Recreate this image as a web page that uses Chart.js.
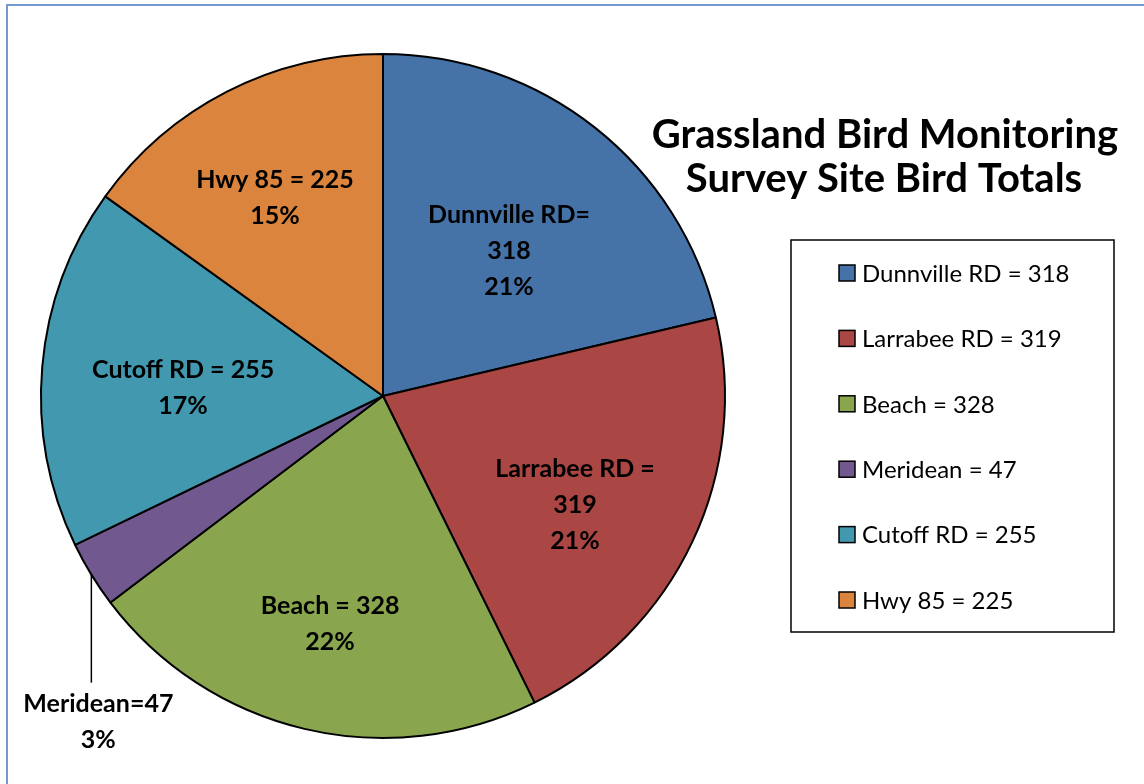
<!DOCTYPE html>
<html>
<head>
<meta charset="utf-8">
<script src="https://cdn.jsdelivr.net/npm/chart.js@4.4.1/dist/chart.umd.min.js"></script>
<style>
  html,body{ margin:0; padding:0; background:#fff; }
  #wrap{ width:1144px; height:784px; position:relative; }
</style>
</head>
<body>
<div id="wrap"><canvas id="c" width="1144" height="784"></canvas></div>
<script>
// survey totals
const sites = ['Dunnville RD', 'Larrabee RD', 'Beach', 'Meridean', 'Cutoff RD', 'Hwy 85'];
const birdTotals = [318, 319, 328, 47, 255, 225];
const percentLabels = ['21%', '21%', '22%', '3%', '17%', '15%'];
const sliceText = [
  ['Dunnville RD=', '318'],
  ['Larrabee RD =', '319'],
  ['Beach = 328'],
  ['Meridean=47'],
  ['Cutoff RD = 255'],
  ['Hwy 85 = 225']
];
const titleLines = ['Grassland Bird Monitoring', 'Survey Site Bird Totals'];

const colors = ['#4572a7', '#aa4643', '#89a54e', '#71588f', '#4198af', '#db843d'];
// label placement: share of the radius (0 = outside with leader) and a small angle nudge in degrees
const labelRadius = [0.562, 0.646, 0.684, 0, 0.585, 0.659];
const labelNudge = [2.6, 4.4, -0.2, 0, -2.6, -1.5];
const FONT = 'Lato, "Open Sans", sans-serif';

const decor = {
  id: 'decor',
  beforeDraw(chart){
    const ctx = chart.ctx;
    ctx.save();
    ctx.strokeStyle = '#7399d0';
    ctx.lineWidth = 2;
    ctx.beginPath();
    ctx.moveTo(7, 790); ctx.lineTo(7, 5); ctx.lineTo(1150, 5);
    ctx.stroke();
    ctx.restore();
  },
  afterDatasetsDraw(chart){
    const ctx = chart.ctx;
    const meta = chart.getDatasetMeta(0);
    ctx.save();
    ctx.fillStyle = '#000';
    ctx.textAlign = 'center';
    ctx.textBaseline = 'middle';
    ctx.font = 'bold 25px ' + FONT;
    meta.data.forEach((arc, i) => {
      const p = arc.getProps(['x','y','startAngle','endAngle','outerRadius'], true);
      const mid = (p.startAngle + p.endAngle) / 2;
      const lines = sliceText[i].concat([percentLabels[i]]);
      if(labelRadius[i] > 0){
        const a = mid + labelNudge[i] * Math.PI / 180;
        const r = p.outerRadius * labelRadius[i];
        const cx = p.x + Math.cos(a) * r;
        const cy = p.y + Math.sin(a) * r;
        const top = cy - (lines.length - 1) * 36 / 2;
        lines.forEach((t, k) => ctx.fillText(t, cx, top + k * 36));
      } else {
        const ax = p.x + Math.cos(mid) * p.outerRadius;
        const ay = p.y + Math.sin(mid) * p.outerRadius;
        ctx.strokeStyle = '#000';
        ctx.lineWidth = 1.5;
        ctx.beginPath();
        ctx.moveTo(ax, ay); ctx.lineTo(ax, ay + 108);
        ctx.stroke();
        lines.forEach((t, k) => ctx.fillText(t, ax + 7, ay + 129 + k * 36));
      }
    });

    // title
    ctx.font = 'bold 40px ' + FONT;
    ctx.textBaseline = 'alphabetic';
    ctx.fillText(titleLines[0], 885, 148);
    ctx.fillText(titleLines[1], 884, 192);

    // legend
    ctx.strokeStyle = '#000';
    ctx.lineWidth = 1.5;
    ctx.strokeRect(791, 240, 323, 392);
    ctx.textAlign = 'left';
    ctx.textBaseline = 'middle';
    ctx.font = '24px ' + FONT;
    sites.forEach((s, i) => {
      const y = 273 + i * 65.4;
      ctx.fillStyle = colors[i];
      ctx.fillRect(839, y - 8, 16, 16);
      ctx.strokeStyle = '#000';
      ctx.lineWidth = 1.5;
      ctx.strokeRect(839, y - 8, 16, 16);
      ctx.fillStyle = '#000';
      ctx.fillText(s + ' = ' + birdTotals[i], 862, y + 1);
    });
    ctx.restore();
  }
};

new Chart(document.getElementById('c'), {
  type: 'pie',
  data: {
    labels: sites,
    datasets: [{ data: birdTotals, backgroundColor: colors, borderColor: '#000', borderWidth: 2 }]
  },
  options: {
    responsive: false,
    animation: false,
    layout: { padding: { left: 40, top: 53, right: 418, bottom: 45 } },
    plugins: { legend: { display: false }, tooltip: { enabled: false }, title: { display: false } }
  },
  plugins: [decor]
});
</script>
</body>
</html>
